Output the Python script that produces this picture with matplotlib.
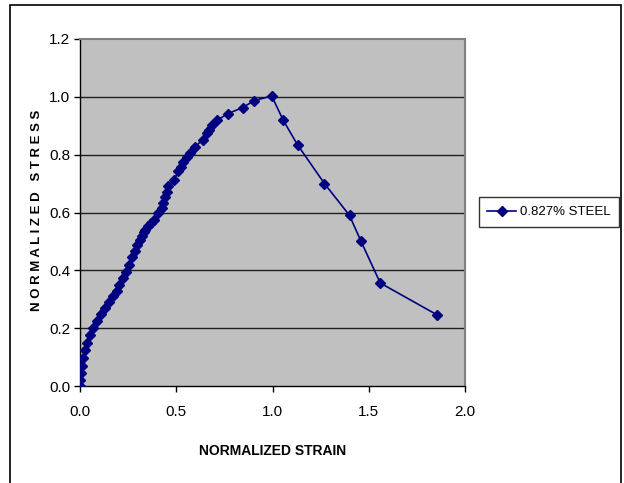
import numpy as np
import matplotlib.pyplot as plt
from matplotlib.patches import Rectangle

plt.rcParams['font.family'] = ['Liberation Sans', 'DejaVu Sans']

# Normalized stress-strain curve, 0.827% steel
strain = [0.000, 0.000, 0.003, 0.010, 0.017, 0.026, 0.036, 0.050, 0.067, 0.088,
          0.109, 0.130, 0.150, 0.170, 0.190, 0.205, 0.223, 0.240, 0.255, 0.270,
          0.284, 0.298, 0.310, 0.320, 0.330, 0.338, 0.352, 0.368, 0.385, 0.405,
          0.424, 0.433, 0.442, 0.450, 0.459, 0.488, 0.511, 0.523, 0.537, 0.554,
          0.571, 0.599, 0.637, 0.658, 0.669, 0.686, 0.712, 0.769, 0.845, 0.905,
          0.996, 1.055, 1.130, 1.270, 1.400, 1.460, 1.560, 1.855]
stress = [0.000, 0.020, 0.045, 0.070, 0.097, 0.125, 0.150, 0.176, 0.200, 0.225,
          0.248, 0.270, 0.290, 0.310, 0.330, 0.350, 0.372, 0.395, 0.420, 0.445,
          0.467, 0.488, 0.505, 0.520, 0.532, 0.540, 0.552, 0.562, 0.575, 0.598,
          0.615, 0.632, 0.655, 0.672, 0.692, 0.713, 0.742, 0.757, 0.776, 0.792,
          0.807, 0.828, 0.851, 0.875, 0.886, 0.901, 0.919, 0.942, 0.963, 0.987,
          1.003, 0.920, 0.834, 0.700, 0.590, 0.500, 0.356, 0.246]

fig = plt.figure(figsize=(6.24, 4.83), dpi=100)
ax = fig.add_axes([80 / 624, 1 - 386 / 483, 385 / 624, 347 / 483])
ax.set_facecolor('#c0c0c0')

ax.plot(strain, stress, color='#000080', lw=1.2, marker='D', ms=5.5,
        mec='#000080', mfc='#000080', label='0.827% STEEL', zorder=3)

ax.set_xlim(0, 2.0)
ax.set_ylim(0, 1.2)
ax.set_xticks(np.arange(0, 2.01, 0.5))
ax.set_yticks(np.arange(0, 1.21, 0.2))
ax.set_xticklabels([f'{v:.1f}' for v in np.arange(0, 2.01, 0.5)])
ax.set_yticklabels([f'{v:.1f}' for v in np.arange(0, 1.21, 0.2)])
ax.tick_params(direction='out', length=4, width=1, labelsize=11, color='black')
ax.tick_params(axis='x', pad=10)
ax.tick_params(axis='y', pad=3)

for v in np.arange(0.2, 1.01, 0.2):
    ax.axhline(v, color='#202020', lw=1.0, zorder=1)

for s in ['top', 'right']:
    ax.spines[s].set_color('#808080')
    ax.spines[s].set_linewidth(1.5)
for s in ['left', 'bottom']:
    ax.spines[s].set_color('black')
    ax.spines[s].set_linewidth(1.0)

ax.set_xlabel('NORMALIZED STRAIN', fontsize=10, fontweight='bold', labelpad=18)
fig.text(37 / 624, 1 - 210 / 483, 'N O R M A L I Z E D   S T R E S S', rotation=90,
         fontsize=9.5, fontweight='bold', ha='center', va='center')

leg = fig.legend(loc='center', bbox_to_anchor=(549 / 624, 1 - 212 / 483), frameon=True,
                 fancybox=False, edgecolor='black', fontsize=9.5, handlelength=2.2,
                 borderpad=0.65, handletextpad=0.3)
leg.get_frame().set_linewidth(1.0)
for h in leg.legend_handles:
    h.set_markersize(5)

# outer chart border
fig.patches.append(Rectangle((10 / 624, -0.02), 611 / 624, 1.0 - 5 / 483 + 0.02,
                             transform=fig.transFigure, fill=False, ec='black', lw=1.2))

fig.savefig('out.png', dpi=100)
